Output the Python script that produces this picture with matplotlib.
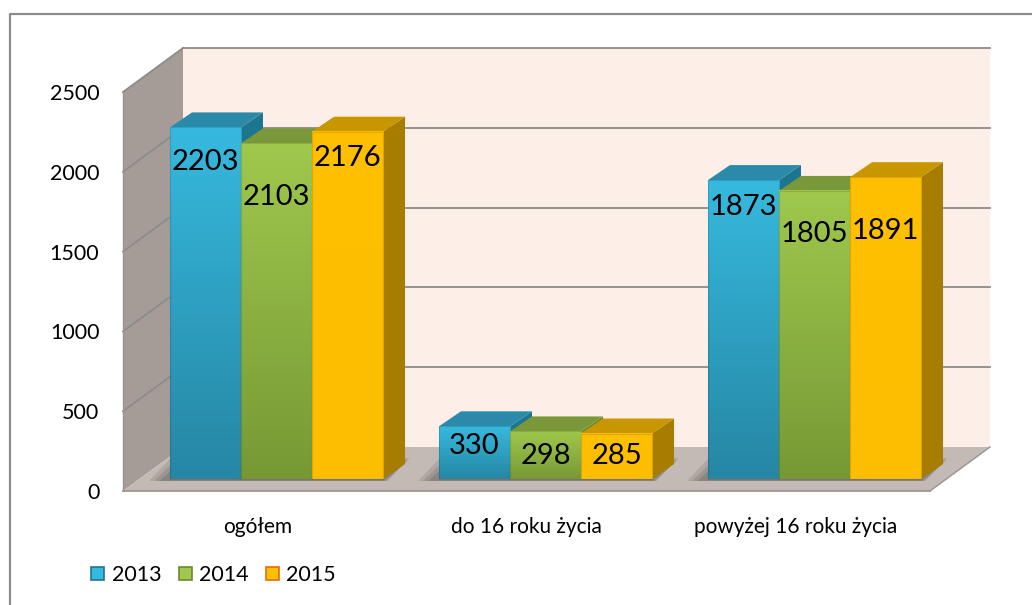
import numpy as np
import matplotlib
matplotlib.use("Agg")
import matplotlib.pyplot as plt
from matplotlib.patches import Polygon, Rectangle, Patch
from matplotlib.transforms import Affine2D, IdentityTransform
from matplotlib.colors import to_rgb
from matplotlib.lines import Line2D

# ---------------- data ----------------
categories = ["ogółem", "do 16 roku życia", "powyżej 16 roku życia"]
series_names = ["2013", "2014", "2015"]
values_2013 = [2203, 330, 1873]
values_2014 = [2103, 298, 1805]
values_2015 = [2176, 285, 1891]
yticks = [0, 500, 1000, 1500, 2000, 2500]

# ---------------- style ----------------
front_top = ["#36B9DE", "#9FC84D", "#FFC000"]
front_bot = ["#2687A4", "#779935", "#FDBD00"]
top_col = ["#2B8AAA", "#7A983A", "#C89700"]
side_col = ["#1E7590", "#6A892E", "#A67D00"]
label_drop = [[35, 54, 26], [20, 25, 22], [27, 43, 54]]  # px below bar top

FONT = "Lato"
W, H = 1032, 605
fig = plt.figure(figsize=(W / 100, H / 100), dpi=100)
fig.patch.set_facecolor("white")
ax = fig.add_axes([123 / W, 114 / H, 807 / W, 399 / H])
ax.set_xlim(-0.5, 2.5)
ax.set_ylim(0, 2500)
ax.set_facecolor("none")
for s in ax.spines.values():
    s.set_visible(False)

WALL = (60, 44)      # depth of the whole box (px)
BF = (19, 12)        # bar front-face offset
BB = (41, 27)        # bar back-face offset
GRID = "#8C8C8C"
ID = IdentityTransform()


def P(x, y, off=(0, 0)):
    p = ax.transData.transform((x, y))
    return (p[0] + off[0], p[1] + off[1])


def poly(pts, color, z, ec="none", lw=0, alpha=1.0):
    ax.add_patch(Polygon(pts, closed=True, facecolor=color, edgecolor=ec,
                         linewidth=lw, transform=ID, clip_on=False, zorder=z,
                         alpha=alpha))


def line(p0, p1, z, color=GRID, lw=1.3):
    ax.add_line(Line2D([p0[0], p1[0]], [p0[1], p1[1]], color=color, lw=lw,
                       transform=ID, clip_on=False, zorder=z))


x0, x1 = -0.5, 2.5
ytop = yticks[-1]
# back wall
poly([P(x0, 0, WALL), P(x1, 0, WALL), P(x1, ytop, WALL), P(x0, ytop, WALL)],
     "#FDEEE8", 1)
# side wall
poly([P(x0, 0), P(x0, 0, WALL), P(x0, ytop, WALL), P(x0, ytop)], "#A59C97", 1)
# gridlines
for v in yticks[1:]:
    line(P(x0, v, WALL), P(x1, v, WALL), 2)
    line(P(x0, v), P(x0, v, WALL), 2)
# floor
poly([P(x0, 0), P(x1, 0), P(x1, 0, WALL), P(x0, 0, WALL)], "#C3BAB6", 3)
line(P(x0, 0), P(x1, 0), 3.5, color="#9A928E", lw=1.2)
line(P(x0, 0), P(x0, ytop), 3.5, color="#9A928E", lw=1.0)
line(P(x1, 0), P(x1, 0, WALL), 3.5, color="#9A928E", lw=1.0)

series = [values_2013, values_2014, values_2015]
bw = 0.264

# shadows under groups
for i in range(len(categories)):
    gl = i - 1.5 * bw
    gr = i + 1.5 * bw
    for k, a in enumerate([0.18, 0.22, 0.28]):
        e = (3 - k) * 5
        poly([P(gl, 0, (BF[0] - e - 6, BF[1] - 2)),
              P(gr, 0, (BF[0] + e * 0.3, BF[1] - 2)),
              P(gr, 0, (BB[0] + e * 0.3, BB[1] + e * 0.4)),
              P(gl, 0, (BB[0] - e - 6, BB[1] + e * 0.4))],
             "#5E5652", 3.6, alpha=a)

z = 5
for i in range(len(categories)):
    for j, vals in enumerate(series):
        v = vals[i]
        xl = i + (j - 1.5) * bw
        xr = xl + bw
        # side face
        poly([P(xr, 0, BF), P(xr, v, BF), P(xr, v, BB), P(xr, 0, BB)],
             side_col[j], z)
        # top face
        poly([P(xl, v, BF), P(xr, v, BF), P(xr, v, BB), P(xl, v, BB)],
             top_col[j], z + 0.1)
        # front face with vertical gradient
        ct, cb = np.array(to_rgb(front_top[j])), np.array(to_rgb(front_bot[j]))
        t = np.linspace(0, 1, 64)[:, None]
        grad = (ct * (1 - t) + cb * t)[:, None, :]
        tr = ax.transData + Affine2D().translate(*BF)
        ax.imshow(grad, extent=[xl, xr, 0, v], origin="upper",
                  aspect="auto", transform=tr, zorder=z + 0.2,
                  interpolation="bilinear", clip_on=False)
        rect = Rectangle((xl, 0), bw, v, transform=tr, facecolor="none",
                         edgecolor=(0, 0, 0, 0.12), lw=0.8, zorder=z + 0.3,
                         clip_on=False)
        ax.add_patch(rect)
        z += 1

# value labels
for i in range(len(categories)):
    for j, vals in enumerate(series):
        v = vals[i]
        xc = i + (j - 1) * bw
        tr = ax.transData + Affine2D().translate(*BF)
        ax.annotate(str(v), xy=(xc, v), xycoords=tr,
                    xytext=(0, -label_drop[i][j]), textcoords="offset pixels",
                    ha="center", va="center", fontsize=21, family=FONT,
                    color="black", zorder=100, annotation_clip=False)

ax.set_yticks(yticks)
ax.set_yticklabels([str(v) for v in yticks], family=FONT, fontsize=15.5)
ax.set_xticks(range(len(categories)))
ax.set_xticklabels(categories, family=FONT, fontsize=15)
ax.tick_params(axis="y", length=0, pad=17)
ax.tick_params(axis="x", length=0, pad=19)

handles = [Patch(facecolor=front_top[k], edgecolor=("#E46C0A" if k == 2 else side_col[k]),
                 linewidth=1.2) for k in range(3)]
fig.legend(handles, series_names, loc="center left",
           bbox_to_anchor=(72 / W, 1 - 575 / H), ncol=3, frameon=False,
           prop={"family": FONT, "size": 15.5}, handlelength=0.6,
           handleheight=0.6, handletextpad=0.35, columnspacing=0.8)

# outer chart border
fig.add_artist(Line2D([10 / W, 10 / W, 1.0], [0.0, 1 - 14 / H, 1 - 14 / H],
                      transform=fig.transFigure, color="#8C8C8C", lw=1.6))

fig.savefig("out.png", dpi=100)
